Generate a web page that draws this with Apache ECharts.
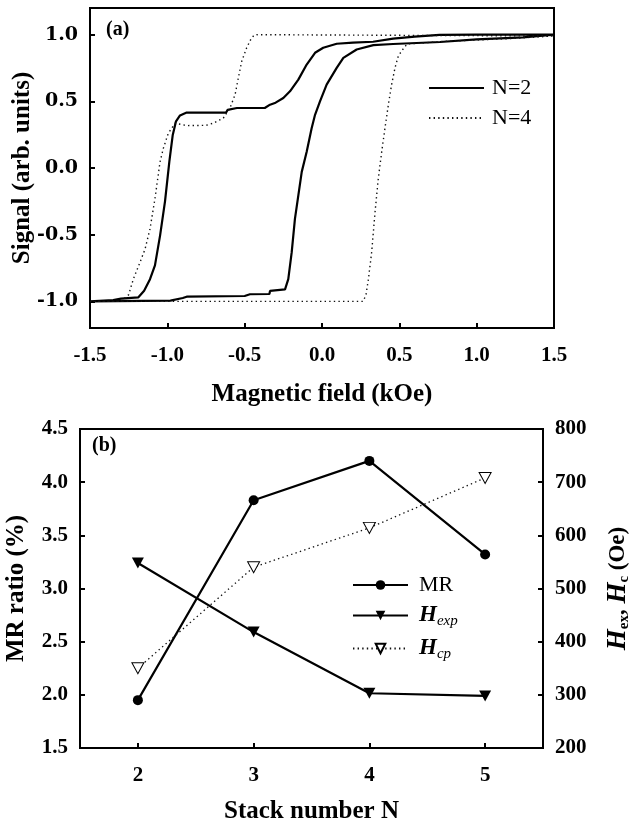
<!DOCTYPE html>
<html lang="en">
<head>
<meta charset="UTF-8">
<title>Hysteresis and MR vs stack number</title>
<script src="https://cdn.jsdelivr.net/npm/echarts@6.0.0/dist/echarts.min.js"></script>
<style>
    html, body { margin: 0; padding: 0; background: #fff; overflow: hidden; }
    #chart { width: 635px; height: 824px; }
</style>
</head>
<body>
<div id="chart"></div>
<script>
    // ---- panel (a): hysteresis loops, [field kOe, signal] ----
    var fieldTicks = [-1.5, -1.0, -0.5, 0.0, 0.5, 1.0, 1.5];
    var signalTicks = [-1.0, -0.5, 0.0, 0.5, 1.0];

    // N=2, field swept up (switches at small negative field)
    var n2Ascending = [
        [-1.5, -1.0], [-0.98, -0.995], [-0.9, -0.975], [-0.875, -0.965], [-0.5, -0.96],
        [-0.466, -0.947], [-0.34, -0.945], [-0.336, -0.922], [-0.239, -0.91], [-0.218, -0.834],
        [-0.196, -0.633], [-0.175, -0.381], [-0.153, -0.205], [-0.131, -0.029], [-0.099, 0.122],
        [-0.067, 0.298], [-0.045, 0.399], [-0.013, 0.5], [0.03, 0.625], [0.095, 0.751],
        [0.138, 0.826], [0.224, 0.889], [0.332, 0.922], [0.46, 0.93], [0.763, 0.945],
        [1.0, 0.965], [1.3, 0.98], [1.5, 1.0]
    ];
    // N=2, field swept down
    var n2Descending = [
        [1.5, 1.0], [1.0, 1.0], [0.76, 0.998], [0.6, 0.985], [0.46, 0.97], [0.33, 0.947],
        [0.2, 0.94], [0.095, 0.932], [0.008, 0.902], [-0.045, 0.864], [-0.099, 0.776],
        [-0.153, 0.663], [-0.207, 0.575], [-0.25, 0.525], [-0.3, 0.49], [-0.336, 0.475],
        [-0.37, 0.45], [-0.55, 0.45], [-0.56, 0.436], [-0.61, 0.436], [-0.62, 0.416],
        [-0.875, 0.416], [-0.918, 0.394], [-0.944, 0.35], [-0.965, 0.248], [-0.987, 0.047],
        [-1.015, -0.25], [-1.047, -0.507], [-1.08, -0.73], [-1.112, -0.834], [-1.15, -0.92],
        [-1.187, -0.97], [-1.3, -0.98], [-1.35, -0.99], [-1.5, -1.0]
    ];
    // N=4, field swept up
    var n4Ascending = [
        [-1.5, -1.0], [0.267, -1.0], [0.285, -0.947], [0.3, -0.834], [0.321, -0.633],
        [0.343, -0.33], [0.364, -0.08], [0.386, 0.122], [0.407, 0.298], [0.429, 0.474],
        [0.45, 0.625], [0.472, 0.751], [0.493, 0.839], [0.519, 0.884], [0.55, 0.93],
        [0.8, 0.95], [1.2, 0.97], [1.5, 0.99]
    ];
    // N=4, field swept down
    var n4Descending = [
        [1.5, 1.0], [-0.433, 1.0], [-0.455, 0.977], [-0.487, 0.902], [-0.519, 0.8],
        [-0.541, 0.675], [-0.562, 0.55], [-0.595, 0.45], [-0.638, 0.374], [-0.703, 0.336],
        [-0.75, 0.32], [-0.875, 0.318], [-0.95, 0.336], [-0.994, 0.26], [-1.026, 0.147],
        [-1.047, 0.047], [-1.08, -0.23], [-1.112, -0.457], [-1.144, -0.608], [-1.177, -0.708],
        [-1.22, -0.834], [-1.25, -0.95], [-1.3, -1.0], [-1.5, -1.0]
    ];

    // ---- panel (b): vs stack number ----
    var stackN = [2, 3, 4, 5];
    var mrRatio = [1.95, 3.83, 4.2, 3.32];
    var hexp = [548, 418, 303, 298];
    var hcp = [350, 540, 614, 708];
    var stackTicks = [2, 3, 4, 5];
    var mrTicks = [1.5, 2.0, 2.5, 3.0, 3.5, 4.0, 4.5];
    var oeTicks = [200, 300, 400, 500, 600, 700, 800];

    function pairs(xs, ys) {
        return xs.map(function (x, i) { return [x, ys[i]]; });
    }

    var serif = 'Liberation Serif';
    var tickLabel = { color: '#000', fontFamily: serif, fontWeight: 'bold', fontSize: 21 };
    var axisName = { color: '#000', fontFamily: serif, fontWeight: 'bold', fontSize: 25 };
    var blackLine = { show: true, onZero: false, lineStyle: { color: '#000', width: 2 } };
    var tickStyle = { color: '#000', width: 2 };
    var downTri = 'path://M0,0 L10,0 L5,9 Z';

    var myChart = echarts.init(document.getElementById('chart'));

    var option = {
        backgroundColor: '#fff',
        animation: false,
        grid: [
            { left: 90, top: 8, width: 464, height: 320, show: true, borderColor: '#000', borderWidth: 2,
              containLabel: false, outerBoundsMode: 'none' },
            { left: 80, top: 429, width: 463, height: 319, show: true, borderColor: '#000', borderWidth: 2,
              containLabel: false, outerBoundsMode: 'none' }
        ],
        xAxis: [{
            gridIndex: 0, type: 'value', min: -1.5, max: 1.5,
            axisLine: blackLine, splitLine: { show: false },
            axisTick: { inside: true, length: 5, customValues: fieldTicks, lineStyle: tickStyle },
            axisLabel: Object.assign({ margin: 17, customValues: fieldTicks,
                formatter: function (v) { return v.toFixed(1); } }, tickLabel),
            name: 'Magnetic field (kOe)', nameLocation: 'middle', nameGap: 54, nameTextStyle: axisName
        }, {
            gridIndex: 1, type: 'value', min: 1.5, max: 5.5,
            axisLine: blackLine, splitLine: { show: false },
            axisTick: { inside: true, length: 5, customValues: stackTicks, lineStyle: tickStyle },
            axisLabel: Object.assign({ margin: 17, customValues: stackTicks,
                formatter: function (v) { return String(v); } }, tickLabel),
            name: 'Stack number N', nameLocation: 'middle', nameGap: 51, nameTextStyle: axisName
        }],
        yAxis: [{
            gridIndex: 0, type: 'value', min: -1.2, max: 1.2,
            axisLine: blackLine, splitLine: { show: false },
            axisTick: { inside: true, length: 5, customValues: signalTicks, lineStyle: tickStyle },
            axisLabel: { margin: 12, customValues: signalTicks, color: '#000',
                fontFamily: 'DejaVu Serif', fontWeight: 'bold', fontSize: 19,
                formatter: function (v) { return v.toFixed(1); } },
            name: 'Signal (arb. units)', nameLocation: 'middle', nameGap: 55, nameMoveOverlap: false,
            nameTextStyle: axisName
        }, {
            gridIndex: 1, type: 'value', min: 1.5, max: 4.5,
            axisLine: blackLine, splitLine: { show: false },
            axisTick: { inside: true, length: 5, customValues: mrTicks, lineStyle: tickStyle },
            axisLabel: Object.assign({ margin: 12, customValues: mrTicks,
                formatter: function (v) { return v.toFixed(1); } }, tickLabel),
            name: 'MR ratio (%)', nameLocation: 'middle', nameGap: 51, nameTextStyle: axisName
        }, {
            gridIndex: 1, type: 'value', position: 'right', min: 200, max: 800,
            axisLine: blackLine, splitLine: { show: false },
            axisTick: { inside: true, length: 5, customValues: oeTicks, lineStyle: tickStyle },
            axisLabel: Object.assign({ margin: 12, customValues: oeTicks }, tickLabel),
            name: '{h|H}{s|ex}{t|, }{h|H}{s|c}{t| (Oe)}', nameLocation: 'middle', nameGap: 62,
            nameTextStyle: {
                color: '#000', fontFamily: serif, fontWeight: 'bold', fontSize: 23,
                rich: {
                    h: { fontFamily: serif, fontWeight: 'bold', fontStyle: 'italic', fontSize: 27, color: '#000' },
                    s: { fontFamily: serif, fontWeight: 'bold', fontSize: 15, color: '#000', padding: [12, 0, 0, 0] },
                    t: { fontFamily: serif, fontSize: 23, color: '#000' }
                }
            }
        }],
        legend: [{
            data: ['N=2', 'N=4'],
            orient: 'vertical', left: 423, top: 72,
            itemWidth: 55, itemHeight: 14, itemGap: 8,
            itemStyle: { opacity: 0 },
            textStyle: { color: '#000', fontFamily: serif, fontSize: 22, lineHeight: 20, padding: [0, 0, 0, 3] }
        }, {
            data: ['MR', 'Hexp', 'Hcp'],
            orient: 'vertical', left: 347, top: 569,
            itemWidth: 55, itemHeight: 12, itemGap: 8,
            formatter: function (name) {
                if (name === 'Hexp') return '{h|H}{s|exp}';
                if (name === 'Hcp') return '{h|H}{s|cp}';
                return '{m|MR}';
            },
            textStyle: {
                color: '#000', fontFamily: serif, padding: [0, 0, 0, 6],
                rich: {
                    m: { fontFamily: serif, fontSize: 22, color: '#000', lineHeight: 24 },
                    h: { fontFamily: serif, fontWeight: 'bold', fontStyle: 'italic', fontSize: 23, color: '#000', lineHeight: 24 },
                    s: { fontFamily: serif, fontStyle: 'italic', fontSize: 15, color: '#000', padding: [12, 0, 0, 0] }
                }
            }
        }],
        graphic: [
            { type: 'text', left: 106, top: 20, style: { text: '(a)', font: 'bold 20px "Liberation Serif"', fill: '#000' } },
            { type: 'text', left: 92, top: 436, style: { text: '(b)', font: 'bold 20px "Liberation Serif"', fill: '#000' } }
        ],
        series: [{
            name: 'N=2', type: 'line', xAxisIndex: 0, yAxisIndex: 0,
            data: n2Ascending.concat(n2Descending),
            symbol: 'none', lineStyle: { color: '#000', width: 2.2 }, itemStyle: { color: '#000' }
        }, {
            name: 'N=4', type: 'line', xAxisIndex: 0, yAxisIndex: 0,
            data: n4Ascending.concat(n4Descending),
            symbol: 'none', lineStyle: { color: '#111', width: 1.4, type: [1.4, 3.2] }, itemStyle: { color: '#000' }
        }, {
            name: 'MR', type: 'line', xAxisIndex: 1, yAxisIndex: 1,
            data: pairs(stackN, mrRatio),
            symbol: 'circle', symbolSize: 10,
            lineStyle: { color: '#000', width: 2.2 }, itemStyle: { color: '#000' }
        }, {
            name: 'Hexp', type: 'line', xAxisIndex: 1, yAxisIndex: 2,
            data: pairs(stackN, hexp),
            symbol: downTri, symbolSize: [12, 11],
            lineStyle: { color: '#000', width: 2.2 }, itemStyle: { color: '#000' }
        }, {
            name: 'Hcp', type: 'line', xAxisIndex: 1, yAxisIndex: 2,
            data: pairs(stackN, hcp),
            symbol: downTri, symbolSize: [12, 11],
            lineStyle: { color: '#111', width: 1.3, type: [1.4, 3.2] },
            itemStyle: { color: '#fff', borderColor: '#000', borderWidth: 1 }
        }]
    };
    myChart.setOption(option);
</script>
</body>
</html>
